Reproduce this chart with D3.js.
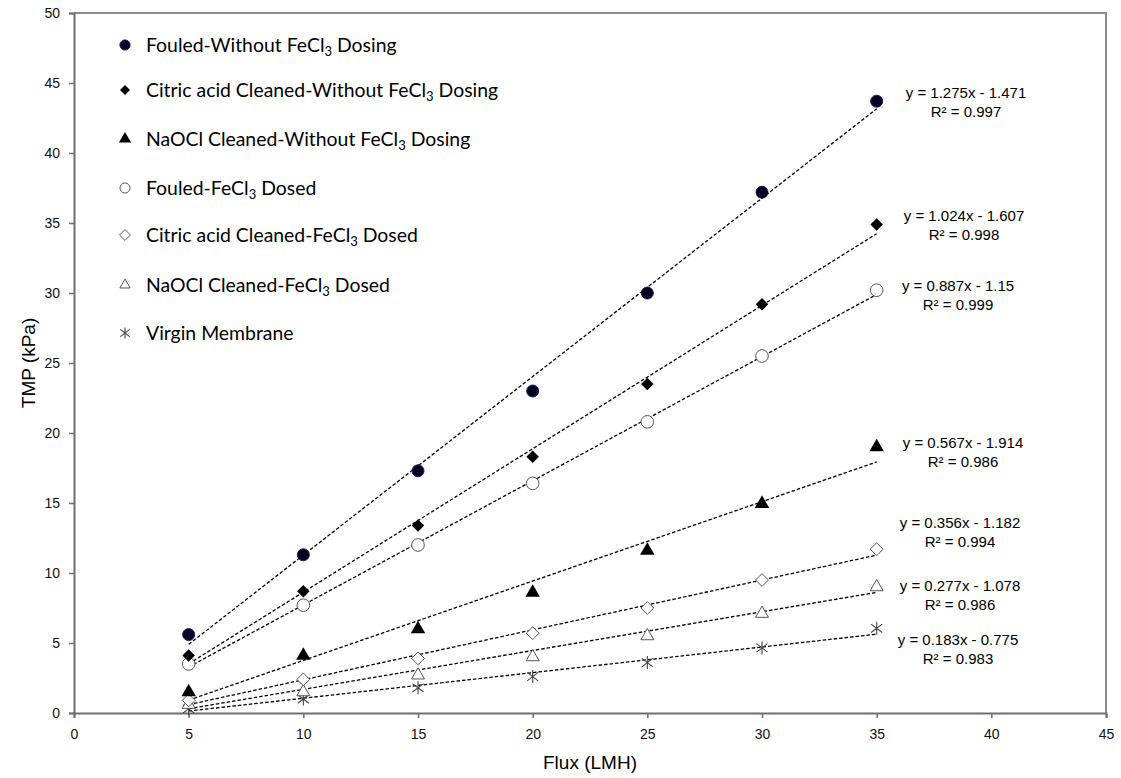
<!DOCTYPE html>
<html lang="en">
<head>
  <meta charset="UTF-8">
  <title>TMP vs Flux</title>
  <style>
    body {
      margin: 0;
      background-color: white;
      overflow: hidden;
    }

    .tick-label {
      font-family: "Liberation Sans", Arial, sans-serif;
      font-size: 14px;
      fill: #111;
    }

    .axis-title {
      font-family: "Liberation Sans", Arial, sans-serif;
      font-size: 19px;
      fill: #000;
    }

    .fit-label {
      font-family: "Liberation Sans", Arial, sans-serif;
      font-size: 15px;
      fill: #000;
      text-anchor: middle;
    }

    .legend-label {
      font-family: Lato, "Noto Sans", sans-serif;
      font-size: 19.4px;
      fill: #000;
    }

    .trend {
      fill: none;
      stroke: #000;
      stroke-width: 1.3px;
      stroke-dasharray: 3.5 2;
    }
  </style>
</head>
<body>
  <script src="https://d3js.org/d3.v7.min.js"></script>
  <script>
    const width = 1121;
    const height = 778;

    // data
    const flux = [5, 10, 15, 20, 25, 30, 35];
    const fouledWithout = [5.6, 11.3, 17.3, 23.0, 30.0, 37.2, 43.7];
    const citricWithout = [4.1, 8.7, 13.4, 18.3, 23.5, 29.2, 34.9];
    const naoclWithout = [1.5, 4.1, 6.0, 8.6, 11.6, 14.95, 19.0];
    const fouledDosed = [3.5, 7.7, 12.0, 16.4, 20.8, 25.5, 30.2];
    const citricDosed = [0.9, 2.4, 3.9, 5.7, 7.5, 9.5, 11.7];
    const naoclDosed = [0.6, 1.5, 2.7, 4.0, 5.5, 7.1, 9.0];
    const virgin = [0.3, 1.0, 1.8, 2.6, 3.6, 4.65, 6.05];

    const slopes = [1.275, 1.024, 0.567, 0.887, 0.356, 0.277, 0.183];
    const intercepts = [-1.471, -1.607, -1.914, -1.15, -1.182, -1.078, -0.775];
    const rSquared = [0.997, 0.998, 0.986, 0.999, 0.994, 0.986, 0.983];

    const legendLabels = [
      ["Fouled-Without FeCl", "3", " Dosing"],
      ["Citric acid Cleaned-Without FeCl", "3", " Dosing"],
      ["NaOCl Cleaned-Without FeCl", "3", " Dosing"],
      ["Fouled-FeCl", "3", " Dosed"],
      ["Citric acid Cleaned-FeCl", "3", " Dosed"],
      ["NaOCl Cleaned-FeCl", "3", " Dosed"],
      ["Virgin Membrane", "", ""]
    ];

    const xTicks = [0, 5, 10, 15, 20, 25, 30, 35, 40, 45];
    const yTicks = [0, 5, 10, 15, 20, 25, 30, 35, 40, 45, 50];

    const seriesValues = [fouledWithout, citricWithout, naoclWithout, fouledDosed, citricDosed, naoclDosed, virgin];
    const markerKinds = ["circle", "diamond", "triangle", "ocircle", "odiamond", "otriangle", "star"];

    // where the equation labels sit (pixels), per series
    const fitLabelX = [966, 964, 963, 958, 960, 960, 958];
    const fitLabelY = [98, 221, 448, 291, 528, 591, 645];

    const svg = d3.select("body").append("svg")
      .attr("width", width)
      .attr("height", height);

    const x = d3.scaleLinear().domain([0, 45]).range([74, 1106]);
    const y = d3.scaleLinear().domain([0, 50]).range([713, 13]);

    // plot frame (top and right)
    svg.append("path")
      .attr("d", `M${x(0)},${y(50)}H${x(45)}V${y(0)}`)
      .attr("fill", "none")
      .attr("stroke", "#8c8c8c")
      .attr("stroke-width", 2);

    const xAxis = svg.append("g")
      .attr("transform", `translate(0,${y(0)})`)
      .call(d3.axisBottom(x).tickValues(xTicks).tickSize(5).tickPadding(11));

    const yAxis = svg.append("g")
      .attr("transform", `translate(${x(0)},0)`)
      .call(d3.axisLeft(y).tickValues(yTicks).tickSize(5).tickPadding(9));

    [xAxis, yAxis].forEach(function(g) {
      g.select(".domain").attr("stroke", "#6e6e6e").attr("stroke-width", 2);
      g.selectAll(".tick line").attr("stroke", "#6e6e6e").attr("stroke-width", 1.5);
      g.selectAll(".tick text").attr("class", "tick-label").attr("fill", "#111");
    });

    svg.append("text")
      .attr("class", "axis-title")
      .attr("x", (x(0) + x(45)) / 2)
      .attr("y", 769)
      .attr("text-anchor", "middle")
      .text("Flux (LMH)");

    svg.append("text")
      .attr("class", "axis-title")
      .attr("transform", `translate(35,${(y(0) + y(50)) / 2}) rotate(-90)`)
      .attr("text-anchor", "middle")
      .text("TMP (kPa)");

    // trend lines
    const line = d3.line().x(d => x(d[0])).y(d => y(d[1]));
    slopes.forEach(function(m, i) {
      const x0 = flux[0], x1 = flux[flux.length - 1];
      svg.append("path")
        .attr("class", "trend")
        .attr("d", line([[x0, m * x0 + intercepts[i]], [x1, m * x1 + intercepts[i]]]));
    });

    function drawMarker(g, kind, scale) {
      const s = scale || 1;
      if (kind === "circle") {
        g.append("circle").attr("r", 6 * s).attr("fill", "#00001a").attr("stroke", "#1a1a80").attr("stroke-width", 1);
      } else if (kind === "ocircle") {
        g.append("circle").attr("r", 6.3 * s).attr("fill", "white").attr("stroke", "#555").attr("stroke-width", 1);
      } else if (kind === "diamond") {
        g.append("path").attr("d", d3.symbol(d3.symbolDiamond2, 100 * s * s)()).attr("fill", "#000");
      } else if (kind === "odiamond") {
        g.append("path").attr("d", d3.symbol(d3.symbolDiamond2, 105 * s * s)()).attr("fill", "white").attr("stroke", "#555").attr("stroke-width", 1);
      } else if (kind === "triangle") {
        g.append("path").attr("d", d3.symbol(d3.symbolTriangle2, 150 * s * s)()).attr("fill", "#000");
      } else if (kind === "otriangle") {
        g.append("path").attr("d", d3.symbol(d3.symbolTriangle2, 120 * s * s)()).attr("fill", "white").attr("stroke", "#555").attr("stroke-width", 1);
      } else if (kind === "star") {
        const r = 6.5 * s;
        g.append("path")
          .attr("d", `M0,${-r}V${r}M${-r * 0.85},${-r * 0.65}L${r * 0.85},${r * 0.65}M${-r * 0.85},${r * 0.65}L${r * 0.85},${-r * 0.65}`)
          .attr("stroke", "#444").attr("stroke-width", 1.1).attr("fill", "none");
      }
    }

    // data markers, drawn last series first so filled ones sit on top
    for (let i = seriesValues.length - 1; i >= 0; i--) {
      seriesValues[i].forEach(function(v, j) {
        const g = svg.append("g").attr("transform", `translate(${x(flux[j])},${y(v)})`);
        drawMarker(g, markerKinds[i]);
      });
    }

    // fit equations
    slopes.forEach(function(m, i) {
      svg.append("text")
        .attr("class", "fit-label")
        .attr("x", fitLabelX[i])
        .attr("y", fitLabelY[i])
        .text(`y = ${m}x - ${Math.abs(intercepts[i])}`);
      svg.append("text")
        .attr("class", "fit-label")
        .attr("x", fitLabelX[i])
        .attr("y", fitLabelY[i] + 18.5)
        .text(`R\u00b2 = ${rSquared[i]}`);
    });

    // legend
    const legendY = [45, 90, 139, 188, 235, 285, 333];
    const legendScale = [0.85, 0.8, 0.85, 0.8, 0.85, 0.8, 0.85];
    legendLabels.forEach(function(parts, i) {
      const g = svg.append("g").attr("transform", `translate(125,${legendY[i]})`);
      drawMarker(g, markerKinds[i], legendScale[i]);
      const t = g.append("text")
        .attr("class", "legend-label")
        .attr("x", 21)
        .attr("y", 7);
      t.append("tspan").text(parts[0]);
      if (parts[1]) {
        t.append("tspan").attr("font-size", "13px").attr("dy", 4).text(parts[1]);
        t.append("tspan").attr("dy", -4).text(parts[2]);
      }
    });
  </script>
</body>
</html>
